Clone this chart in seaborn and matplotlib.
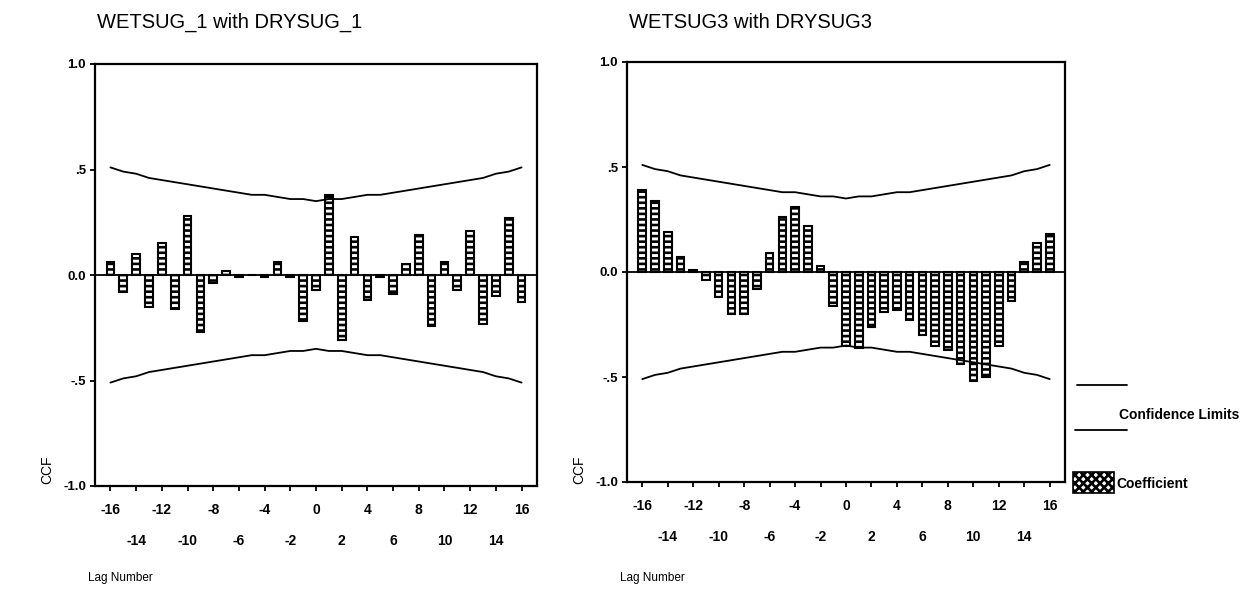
import numpy as np
import pandas as pd
import seaborn as sns
import matplotlib
matplotlib.use("Agg")
import matplotlib.pyplot as plt
from matplotlib.lines import Line2D
from matplotlib.patches import Rectangle

# Lags and cross-correlation coefficients
lags = list(range(-16, 17))

ccf_1 = [0.06, -0.08, 0.10, -0.15, 0.15, -0.16, 0.28, -0.27, -0.04, 0.02,
         -0.01, 0.00, -0.01, 0.06, -0.01, -0.22, -0.07, 0.38, -0.31, 0.18,
         -0.12, -0.01, -0.09, 0.05, 0.19, -0.24, 0.06, -0.07, 0.21, -0.23,
         -0.10, 0.27, -0.13]

ccf_3 = [0.39, 0.34, 0.19, 0.07, 0.01, -0.04, -0.12, -0.20, -0.20, -0.08,
         0.09, 0.26, 0.31, 0.22, 0.03, -0.16, -0.35, -0.36, -0.26, -0.19,
         -0.18, -0.23, -0.30, -0.35, -0.37, -0.44, -0.52, -0.50, -0.35, -0.14,
         0.05, 0.14, 0.18]

# Upper confidence limit per lag (the lower limit mirrors it)
conf_upper = [0.51, 0.49, 0.48, 0.46, 0.45, 0.44, 0.43, 0.42, 0.41, 0.40,
              0.39, 0.38, 0.38, 0.37, 0.36, 0.36, 0.35, 0.36, 0.36, 0.37,
              0.38, 0.38, 0.39, 0.40, 0.41, 0.42, 0.43, 0.44, 0.45, 0.46,
              0.48, 0.49, 0.51]

titles = ["WETSUG_1 with DRYSUG_1", "WETSUG3 with DRYSUG3"]
xtick_values = list(range(-16, 17, 2))
ytick_values = [-1.0, -0.5, 0.0, 0.5, 1.0]
ytick_labels = ["-1.0", "-.5", "0.0", ".5", "1.0"]

sns.set_style("ticks")
plt.rcParams["font.family"] = ["Liberation Sans", "DejaVu Sans"]
plt.rcParams["text.color"] = "black"
plt.rcParams["hatch.linewidth"] = 1.9
plt.rcParams["hatch.color"] = "black"

fig = plt.figure(figsize=(12.52, 5.93), dpi=100)
fig.patch.set_facecolor("white")

W, H = 1252, 593
boxes = [(95, 64, 537, 486), (627, 62, 1065, 482)]
ccfs = [ccf_1, ccf_3]

for i, (box, vals, title) in enumerate(zip(boxes, ccfs, titles)):
    x0, y0, x1, y1 = box
    ax = fig.add_axes([x0 / W, 1 - y1 / H, (x1 - x0) / W, (y1 - y0) / H])
    df = pd.DataFrame({"lag": lags, "ccf": vals})
    sns.barplot(data=df, x="lag", y="ccf", native_scale=True, width=0.6,
                color="white", ax=ax)
    for p in ax.patches:
        p.set_facecolor("white")
        p.set_edgecolor("black")
        p.set_linewidth(1.5)
        p.set_hatch("---")

    lim = pd.DataFrame({"lag": lags, "upper": conf_upper,
                        "lower": [-v for v in conf_upper]})
    sns.lineplot(data=lim, x="lag", y="upper", color="black", lw=1.3, ax=ax)
    sns.lineplot(data=lim, x="lag", y="lower", color="black", lw=1.3, ax=ax)
    ax.axhline(0, color="black", lw=1.3, zorder=1)

    ax.set_xlim(-17.2, 17.2)
    ax.set_ylim(-1.0, 1.0)
    ax.set_xticks(xtick_values)
    ax.set_xticklabels([str(v) if k % 2 == 0 else "\n" + str(v)
                        for k, v in enumerate(xtick_values)],
                       fontsize=10, fontweight="bold")
    for lbl in ax.get_xticklabels():
        lbl.set_linespacing(2.5)
    ax.set_yticks(ytick_values)
    ax.set_yticklabels(ytick_labels, fontsize=9.5, fontweight="bold")
    ax.tick_params(axis="both", direction="out", length=3.5, width=1.3,
                   color="black", labelcolor="black")
    ax.tick_params(axis="x", pad=9)
    ax.tick_params(axis="y", pad=3)
    for s in ax.spines.values():
        s.set_visible(True)
        s.set_color("black")
        s.set_linewidth(1.6)
    ax.set_xlabel("")
    ax.set_ylabel("")

    fig.text((x0 + 2) / W, 1 - 22 / H, title, fontsize=14.5,
             ha="left", va="center")
    fig.text((x0 - 7) / W, 1 - 578 / H, "Lag Number", fontsize=8.5,
             ha="left", va="center")
    fig.text((x0 - 48) / W, 1 - 470 / H, "CCF", fontsize=10,
             rotation=90, ha="center", va="center")

# Legend at the right edge
fig.add_artist(Line2D([1077 / W, 1127 / W], [1 - 385 / H, 1 - 385 / H],
                      color="black", lw=1.3))
fig.add_artist(Line2D([1075 / W, 1127 / W], [1 - 430 / H, 1 - 430 / H],
                      color="black", lw=1.3))
fig.text(1119 / W, 1 - 415 / H, "Confidence Limits", fontsize=10,
         fontweight="bold", ha="left", va="center")
fig.add_artist(Rectangle((1073 / W, 1 - 493 / H), 41 / W, 21 / H,
                         transform=fig.transFigure, facecolor="white",
                         edgecolor="black", lw=1.2, hatch="xxxx"))
fig.text(1116 / W, 1 - 484 / H, "Coefficient", fontsize=10,
         fontweight="bold", ha="left", va="center")

fig.savefig("out.png", dpi=100, facecolor="white")
